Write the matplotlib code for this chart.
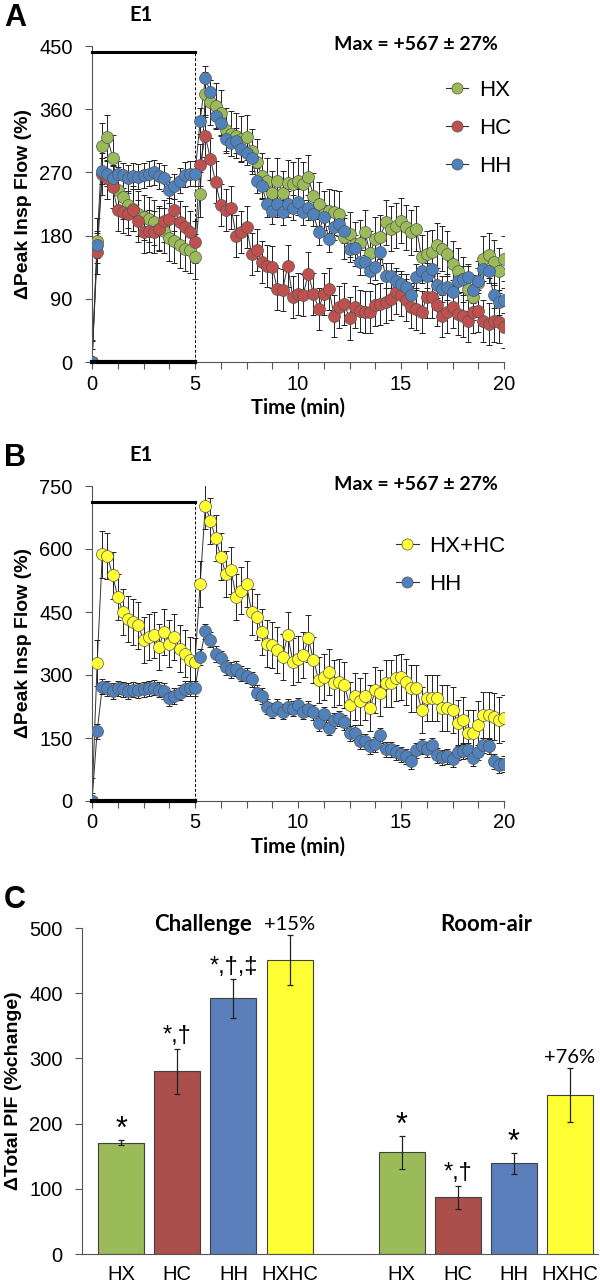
import numpy as np
import matplotlib
matplotlib.use('Agg')
import matplotlib.pyplot as plt
from matplotlib.lines import Line2D

plt.rcParams['font.family'] = ['Liberation Sans', 'DejaVu Sans']

# ---- data ----
time_min = np.arange(0, 20.01, 0.25)

hx = [0,
      173, 308, 320, 291, 245, 235, 223, 218, 211, 206, 203, 199, 190, 187, 176, 173, 166, 161, 159, 150,
      239, 381, 370, 365, 355, 330, 325, 322, 318, 320, 300, 285, 265, 258, 240, 258, 240, 255, 253, 258,
      253, 263, 237, 225, 211, 215, 213, 211, 178, 182, 168, 170, 185, 155, 175, 178, 199, 190, 194, 201,
      192, 185, 190, 149, 154, 156, 166, 161, 154, 140, 130, 118, 104, 92, 112, 147, 152, 142, 130, 147]
hc = [0,
      156, 268, 262, 249, 216, 213, 211, 216, 201, 185, 187, 185, 190, 201, 204, 216, 199, 192, 185, 171,
      280, 322, 289, 256, 223, 216, 220, 180, 185, 192, 154, 159, 142, 137, 135, 104, 102, 137, 92, 97,
      95, 126, 97, 76, 97, 104, 66, 78, 83, 62, 78, 73, 71, 71, 81, 83, 85, 90, 99, 95,
      88, 78, 76, 71, 92, 92, 81, 66, 71, 78, 69, 66, 59, 71, 73, 59, 54, 59, 57, 50]
hh = [0,
      166, 272, 268, 262, 268, 266, 262, 265, 264, 266, 268, 270, 265, 262, 245, 250, 258, 267, 268, 268,
      343, 404, 384, 350, 340, 318, 312, 315, 303, 298, 290, 258, 250, 225, 215, 225, 213, 225, 220, 228,
      213, 220, 211, 185, 206, 175, 192, 197, 187, 161, 163, 142, 142, 130, 135, 156, 123, 123, 116, 111,
      107, 95, 121, 130, 123, 133, 109, 104, 107, 99, 116, 118, 121, 102, 116, 133, 130, 95, 85, 88]
hxhc = [0,
        329, 587, 584, 537, 486, 450, 434, 426, 418, 383, 391, 395, 367, 403, 375, 391, 363, 351, 336, 332,
        516, 703, 667, 626, 582, 540, 549, 486, 501, 516, 450, 438, 403, 375, 371, 359, 343, 395, 332, 339,
        347, 387, 336, 288, 296, 308, 280, 284, 276, 229, 249, 237, 249, 221, 264, 257, 280, 280, 292, 296,
        284, 268, 268, 217, 245, 245, 245, 221, 221, 217, 186, 193, 162, 162, 182, 205, 205, 201, 193, 197]

# approximate SEM per series
hx_sem = 32
hc_sem = 30
hh_sem = 18
hxhc_sem = 55

bar_groups = ['HX', 'HC', 'HH', 'HXHC']
challenge_vals = [171, 280, 392, 451]
challenge_err = [4, 35, 30, 38]
roomair_vals = [156, 87, 139, 244]
roomair_err = [25, 18, 16, 42]
challenge_marks = ['*', '*,†', '*,†,‡', '+15%']
roomair_marks = ['*', '*,†', '*', '+76%']

GREEN = '#9BBB59'
RED = '#C0504D'
BLUE = '#4F81BD'
YELLOW = '#FFFF33'

ARIAL = ['Liberation Sans', 'DejaVu Sans']
CALIBRI = ['Lato', 'DejaVu Sans']
TICK_FS = 14.5

W, H = 600, 1285
fig = plt.figure(figsize=(W / 100, H / 100), dpi=100)


def px_axes(left, top, right, bottom):
    return fig.add_axes([left / W, 1 - bottom / H, (right - left) / W, (bottom - top) / H])


def style_axes(ax):
    for s in ['top', 'right']:
        ax.spines[s].set_visible(False)
    for s in ['left', 'bottom']:
        ax.spines[s].set_color('#555555')
        ax.spines[s].set_linewidth(0.8)
    ax.tick_params(direction='out', length=5, width=0.8, color='#555555', labelsize=TICK_FS)
    ax.tick_params(axis='y', pad=9)
    ax.tick_params(axis='x', pad=4)


def plot_series(ax, y, sem, color):
    ax.plot(time_min, y, color='#333333', lw=0.7, zorder=2)
    ax.errorbar(time_min, y, yerr=sem, fmt='none', ecolor='#222222', elinewidth=0.7,
                capsize=2, capthick=0.7, zorder=2)
    ax.plot(time_min, y, ls='none', marker='o', ms=8.6, mfc=color, mec='#555555', mew=0.5, zorder=3)


def time_panel(ax, series, ymax, ystep, e1_level):
    for y, sem, color in series:
        plot_series(ax, y, sem, color)
    ax.plot([0, 5], [e1_level, e1_level], color='black', lw=2.2, clip_on=False, zorder=4)
    ax.plot([0, 5], [0, 0], color='black', lw=3, clip_on=False, zorder=4)
    ax.plot([5, 5], [0, e1_level], color='black', lw=0.7, ls=(0, (3, 2)), zorder=1)
    ax.set_xlim(0, 20)
    ax.set_ylim(0, ymax)
    ax.set_xticks([0, 5, 10, 15, 20])
    ax.set_xticks(np.arange(0, 20.01, 1.25), minor=True)
    ax.tick_params(axis='x', which='minor', length=5, width=0.8, color='#555555')
    ax.set_yticks(np.arange(0, ymax + 1, ystep))
    style_axes(ax)
    ax.set_xlabel('Time (min)', fontfamily=CALIBRI, fontweight='bold', fontsize=14.5, labelpad=3)
    ax.set_ylabel('\u0394Peak Insp Flow (%)', fontweight='bold', fontsize=14, labelpad=5)


def legend_for(ax, items, anchor):
    handles = [Line2D([], [], color='#333333', lw=0.8, marker='o', ms=8, mfc=c, mec='#555555', mew=0.5)
               for _, c in items]
    ax.legend(handles, [n for n, _ in items], loc='upper left', bbox_to_anchor=anchor,
              frameon=False, handlelength=1.0, handletextpad=0.5, labelspacing=0.75,
              prop={'family': ARIAL, 'size': 16})


# ---- panel A ----
ax_a = px_axes(92, 46, 504, 362)
time_panel(ax_a, [(hx, hx_sem, GREEN), (hc, hc_sem, RED), (hh, hh_sem, BLUE)], 450, 90, 441)
legend_for(ax_a, [('HX', GREEN), ('HC', RED), ('HH', BLUE)], (0.81, 0.955))
fig.text(141 / W, 1 - 15 / H, 'E1', fontfamily=CALIBRI, fontweight='bold', fontsize=14.5, ha='center', va='center')
fig.text(416 / W, 1 - 45 / H, 'Max = +567 \u00b1 27%', fontfamily=CALIBRI, fontweight='bold',
         fontsize=14, ha='center', va='center')
fig.text(4 / W, 1 - 3 / H, 'A', fontweight='bold', fontsize=22, va='top')

# ---- panel B ----
ax_b = px_axes(92, 486, 504, 801)
time_panel(ax_b, [(hxhc, hxhc_sem, YELLOW), (hh, hh_sem, BLUE)], 750, 150, 712)
legend_for(ax_b, [('HX+HC', YELLOW), ('HH', BLUE)], (0.69, 0.905))
fig.text(141 / W, 1 - 455 / H, 'E1', fontfamily=CALIBRI, fontweight='bold', fontsize=14.5, ha='center', va='center')
fig.text(416 / W, 1 - 485 / H, 'Max = +567 \u00b1 27%', fontfamily=CALIBRI, fontweight='bold',
         fontsize=14, ha='center', va='center')
fig.text(4 / W, 1 - 443 / H, 'B', fontweight='bold', fontsize=22, va='top')

# ---- panel C ----
ax_c = px_axes(82, 928, 598, 1254)
colors = [GREEN, '#AA4F4C', '#5B7FBA', YELLOW]
pos_ch = [0, 1, 2, 3]
pos_ra = [5, 6, 7, 8]
for pos, vals, errs, marks in [(pos_ch, challenge_vals, challenge_err, challenge_marks),
                               (pos_ra, roomair_vals, roomair_err, roomair_marks)]:
    ax_c.bar(pos, vals, width=0.82, color=colors, edgecolor='#404040', lw=0.8, zorder=2)
    ax_c.errorbar(pos, vals, yerr=errs, fmt='none', ecolor='#222222', elinewidth=0.9,
                  capsize=2.5, capthick=0.9, zorder=3)
    for p, v, e, m in zip(pos, vals, errs, marks):
        if m.startswith('+'):
            ax_c.text(p, v + e + 3, m, ha='center', va='bottom', fontfamily=CALIBRI,
                      fontsize=14.5, clip_on=False)
        elif m == '*':
            ax_c.text(p, v + e - 8, m, ha='center', va='bottom', fontsize=22, clip_on=False)
        else:
            ax_c.text(p, v + e + 2, m, ha='center', va='bottom', fontsize=17, clip_on=False)
ax_c.text(1.45, 505, 'Challenge', ha='center', va='center', fontfamily=CALIBRI, fontweight='bold',
          fontsize=16, clip_on=False)
ax_c.text(6.5, 505, 'Room-air', ha='center', va='center', fontfamily=CALIBRI, fontweight='bold',
          fontsize=16, clip_on=False)
ax_c.set_xlim(-0.7, 8.5)
ax_c.set_ylim(0, 500)
ax_c.set_yticks(np.arange(0, 501, 100))
ax_c.set_xticks(pos_ch + pos_ra)
ax_c.set_xticklabels(bar_groups + bar_groups)
style_axes(ax_c)
ax_c.tick_params(axis='x', length=0, pad=8)
ax_c.set_ylabel('\u0394Total PIF (%change)', fontweight='bold', fontsize=14, labelpad=5)
fig.text(4 / W, 1 - 885 / H, 'C', fontweight='bold', fontsize=22, va='top')

fig.savefig('out.png', dpi=100)
